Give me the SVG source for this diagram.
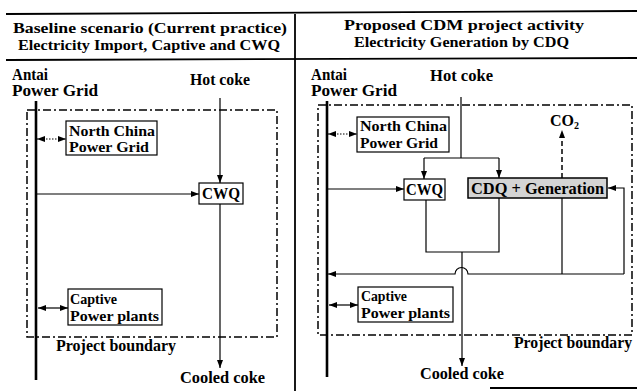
<svg xmlns="http://www.w3.org/2000/svg" width="637" height="391" viewBox="0 0 637 391">
<style>
text{font-family:"Liberation Serif","Tinos","Nimbus Roman","Times New Roman","DejaVu Serif",serif;font-weight:bold;fill:#000}
.t{font-size:15.5px}
.l{font-size:16px}
.s{font-size:14.5px}
.box{fill:#fff;stroke:#000;stroke-width:1.2}
.ln{fill:none;stroke:#000;stroke-width:1.2}
.thick{fill:none;stroke:#000;stroke-width:2.6}
.dot{fill:none;stroke:#000;stroke-width:1;stroke-dasharray:1.5 1.5}
.dash{fill:none;stroke:#000;stroke-width:1.5;stroke-dasharray:5 3}
.bd{fill:none;stroke:#000;stroke-width:1.5;stroke-dasharray:8 3 2 3}
.frame{fill:none;stroke:#000;stroke-width:1.8}
</style>
<defs>
<marker id="ah" markerUnits="userSpaceOnUse" markerWidth="8" markerHeight="6" refX="8" refY="3" orient="auto-start-reverse"><path d="M0,0 L8,3 L0,6 z" fill="#000"/></marker>
</defs>
<rect width="637" height="391" fill="#fff"/>
<g id="frame">
<line class="frame" x1="6" y1="14" x2="637" y2="11"/>
<line class="frame" x1="6" y1="60" x2="637" y2="58"/>
<line class="frame" x1="295" y1="14" x2="295" y2="391"/>
<line class="frame" x1="490" y1="388" x2="637" y2="388"/>
<text class="t" x="13" y="33" textLength="274" lengthAdjust="spacingAndGlyphs">Baseline scenario (Current practice)</text>
<text class="t" x="18" y="50" textLength="262" lengthAdjust="spacingAndGlyphs">Electricity Import, Captive and CWQ</text>
<text class="t" x="344" y="30" textLength="240" lengthAdjust="spacingAndGlyphs">Proposed CDM project activity</text>
<text class="t" x="354" y="47" textLength="215" lengthAdjust="spacingAndGlyphs">Electricity Generation by CDQ</text>
</g>
<g id="boundaries">
<rect class="bd" x="27" y="110" width="250" height="227"/>
<rect class="bd" x="318" y="105" width="314" height="230"/>
<text class="l" x="56" y="351" textLength="120" lengthAdjust="spacingAndGlyphs">Project boundary</text>
<text class="l" x="514" y="348" textLength="118" lengthAdjust="spacingAndGlyphs">Project boundary</text>
</g>
<g id="connectors">
<line class="thick" x1="36" y1="101" x2="36" y2="380"/>
<line class="thick" x1="327" y1="101" x2="327" y2="377"/>
<line class="ln" x1="220" y1="98" x2="220" y2="183" marker-end="url(#ah)"/>
<line class="ln" x1="220" y1="204" x2="220" y2="368" marker-end="url(#ah)"/>
<line class="ln" x1="37" y1="194" x2="199" y2="194" marker-end="url(#ah)"/>
<line class="dot" x1="37" y1="139" x2="66" y2="139" marker-start="url(#ah)" marker-end="url(#ah)"/>
<line class="ln" x1="38" y1="308" x2="68" y2="308" marker-start="url(#ah)" marker-end="url(#ah)"/>
<path class="ln" d="M461,97 V158 M424,158 H499"/>
<line class="ln" x1="424" y1="158" x2="424" y2="179" marker-end="url(#ah)"/>
<line class="ln" x1="499" y1="158" x2="499" y2="178" marker-end="url(#ah)"/>
<line class="ln" x1="328" y1="189" x2="404" y2="189" marker-end="url(#ah)"/>
<line class="dot" x1="328" y1="134" x2="357" y2="134" marker-start="url(#ah)" marker-end="url(#ah)"/>
<line class="ln" x1="329" y1="305" x2="358" y2="305" marker-start="url(#ah)" marker-end="url(#ah)"/>
<path class="ln" d="M426,200 V252 H499 V198"/>
<line class="ln" x1="462" y1="252" x2="462" y2="366" marker-end="url(#ah)"/>
<path class="ln" d="M562,198 V274"/>
<line class="dash" x1="562" y1="178" x2="562" y2="130" marker-end="url(#ah)"/>
<path class="ln" d="M624,274 V188 H608" marker-end="url(#ah)"/>
<path class="ln" d="M624,274 H468 A6.5,6.5 0 0 0 455,274 H328" marker-end="url(#ah)"/>
</g>
<g id="antai-left"><text class="l" x="12" y="80" textLength="36" lengthAdjust="spacingAndGlyphs">Antai</text><text class="l" x="12" y="96" textLength="86" lengthAdjust="spacingAndGlyphs">Power Grid</text></g>
<g id="antai-right"><text class="l" x="311" y="80" textLength="36" lengthAdjust="spacingAndGlyphs">Antai</text><text class="l" x="311" y="96" textLength="86" lengthAdjust="spacingAndGlyphs">Power Grid</text></g>
<g id="hotcoke-left"><text class="l" x="190" y="85" textLength="60" lengthAdjust="spacingAndGlyphs">Hot coke</text></g>
<g id="hotcoke-right"><text class="l" x="430" y="81" textLength="63" lengthAdjust="spacingAndGlyphs">Hot coke</text></g>
<g id="cooled-left"><text class="l" x="180" y="383" textLength="85" lengthAdjust="spacingAndGlyphs">Cooled coke</text></g>
<g id="cooled-right"><text class="l" x="420" y="379" textLength="84" lengthAdjust="spacingAndGlyphs">Cooled coke</text></g>
<g id="ncpg-left"><rect class="box" x="66" y="121" width="91" height="34"/><text class="s" x="69" y="136" textLength="86" lengthAdjust="spacingAndGlyphs">North China</text><text class="s" x="69" y="152" textLength="80" lengthAdjust="spacingAndGlyphs">Power Grid</text></g>
<g id="cwq-left"><rect class="box" x="199" y="183" width="44" height="21"/><text class="l" x="202" y="199" textLength="38" lengthAdjust="spacingAndGlyphs">CWQ</text></g>
<g id="captive-left"><rect class="box" x="68" y="289" width="94" height="36"/><text class="s" x="70" y="304" textLength="47" lengthAdjust="spacingAndGlyphs">Captive</text><text class="s" x="70" y="321" textLength="89" lengthAdjust="spacingAndGlyphs">Power plants</text></g>
<g id="ncpg-right"><rect class="box" x="357" y="117" width="92" height="35"/><text class="s" x="360" y="131" textLength="87" lengthAdjust="spacingAndGlyphs">North China</text><text class="s" x="360" y="148" textLength="78" lengthAdjust="spacingAndGlyphs">Power Grid</text></g>
<g id="cwq-right"><rect class="box" x="404" y="179" width="41" height="21"/><text class="l" x="406" y="195" textLength="37" lengthAdjust="spacingAndGlyphs">CWQ</text></g>
<g id="cdq"><rect x="468" y="178" width="139" height="20" fill="#d4d4d4" stroke="#000" stroke-width="1.5"/><text class="l" x="471" y="194" textLength="133" lengthAdjust="spacingAndGlyphs">CDQ + Generation</text></g>
<g id="co2"><text class="l" x="550" y="126">CO<tspan font-size="10" dy="3">2</tspan></text></g>
<g id="captive-right"><rect class="box" x="358" y="287" width="95" height="35"/><text class="s" x="361" y="301" textLength="46" lengthAdjust="spacingAndGlyphs">Captive</text><text class="s" x="361" y="318" textLength="89" lengthAdjust="spacingAndGlyphs">Power plants</text></g>
</svg>
